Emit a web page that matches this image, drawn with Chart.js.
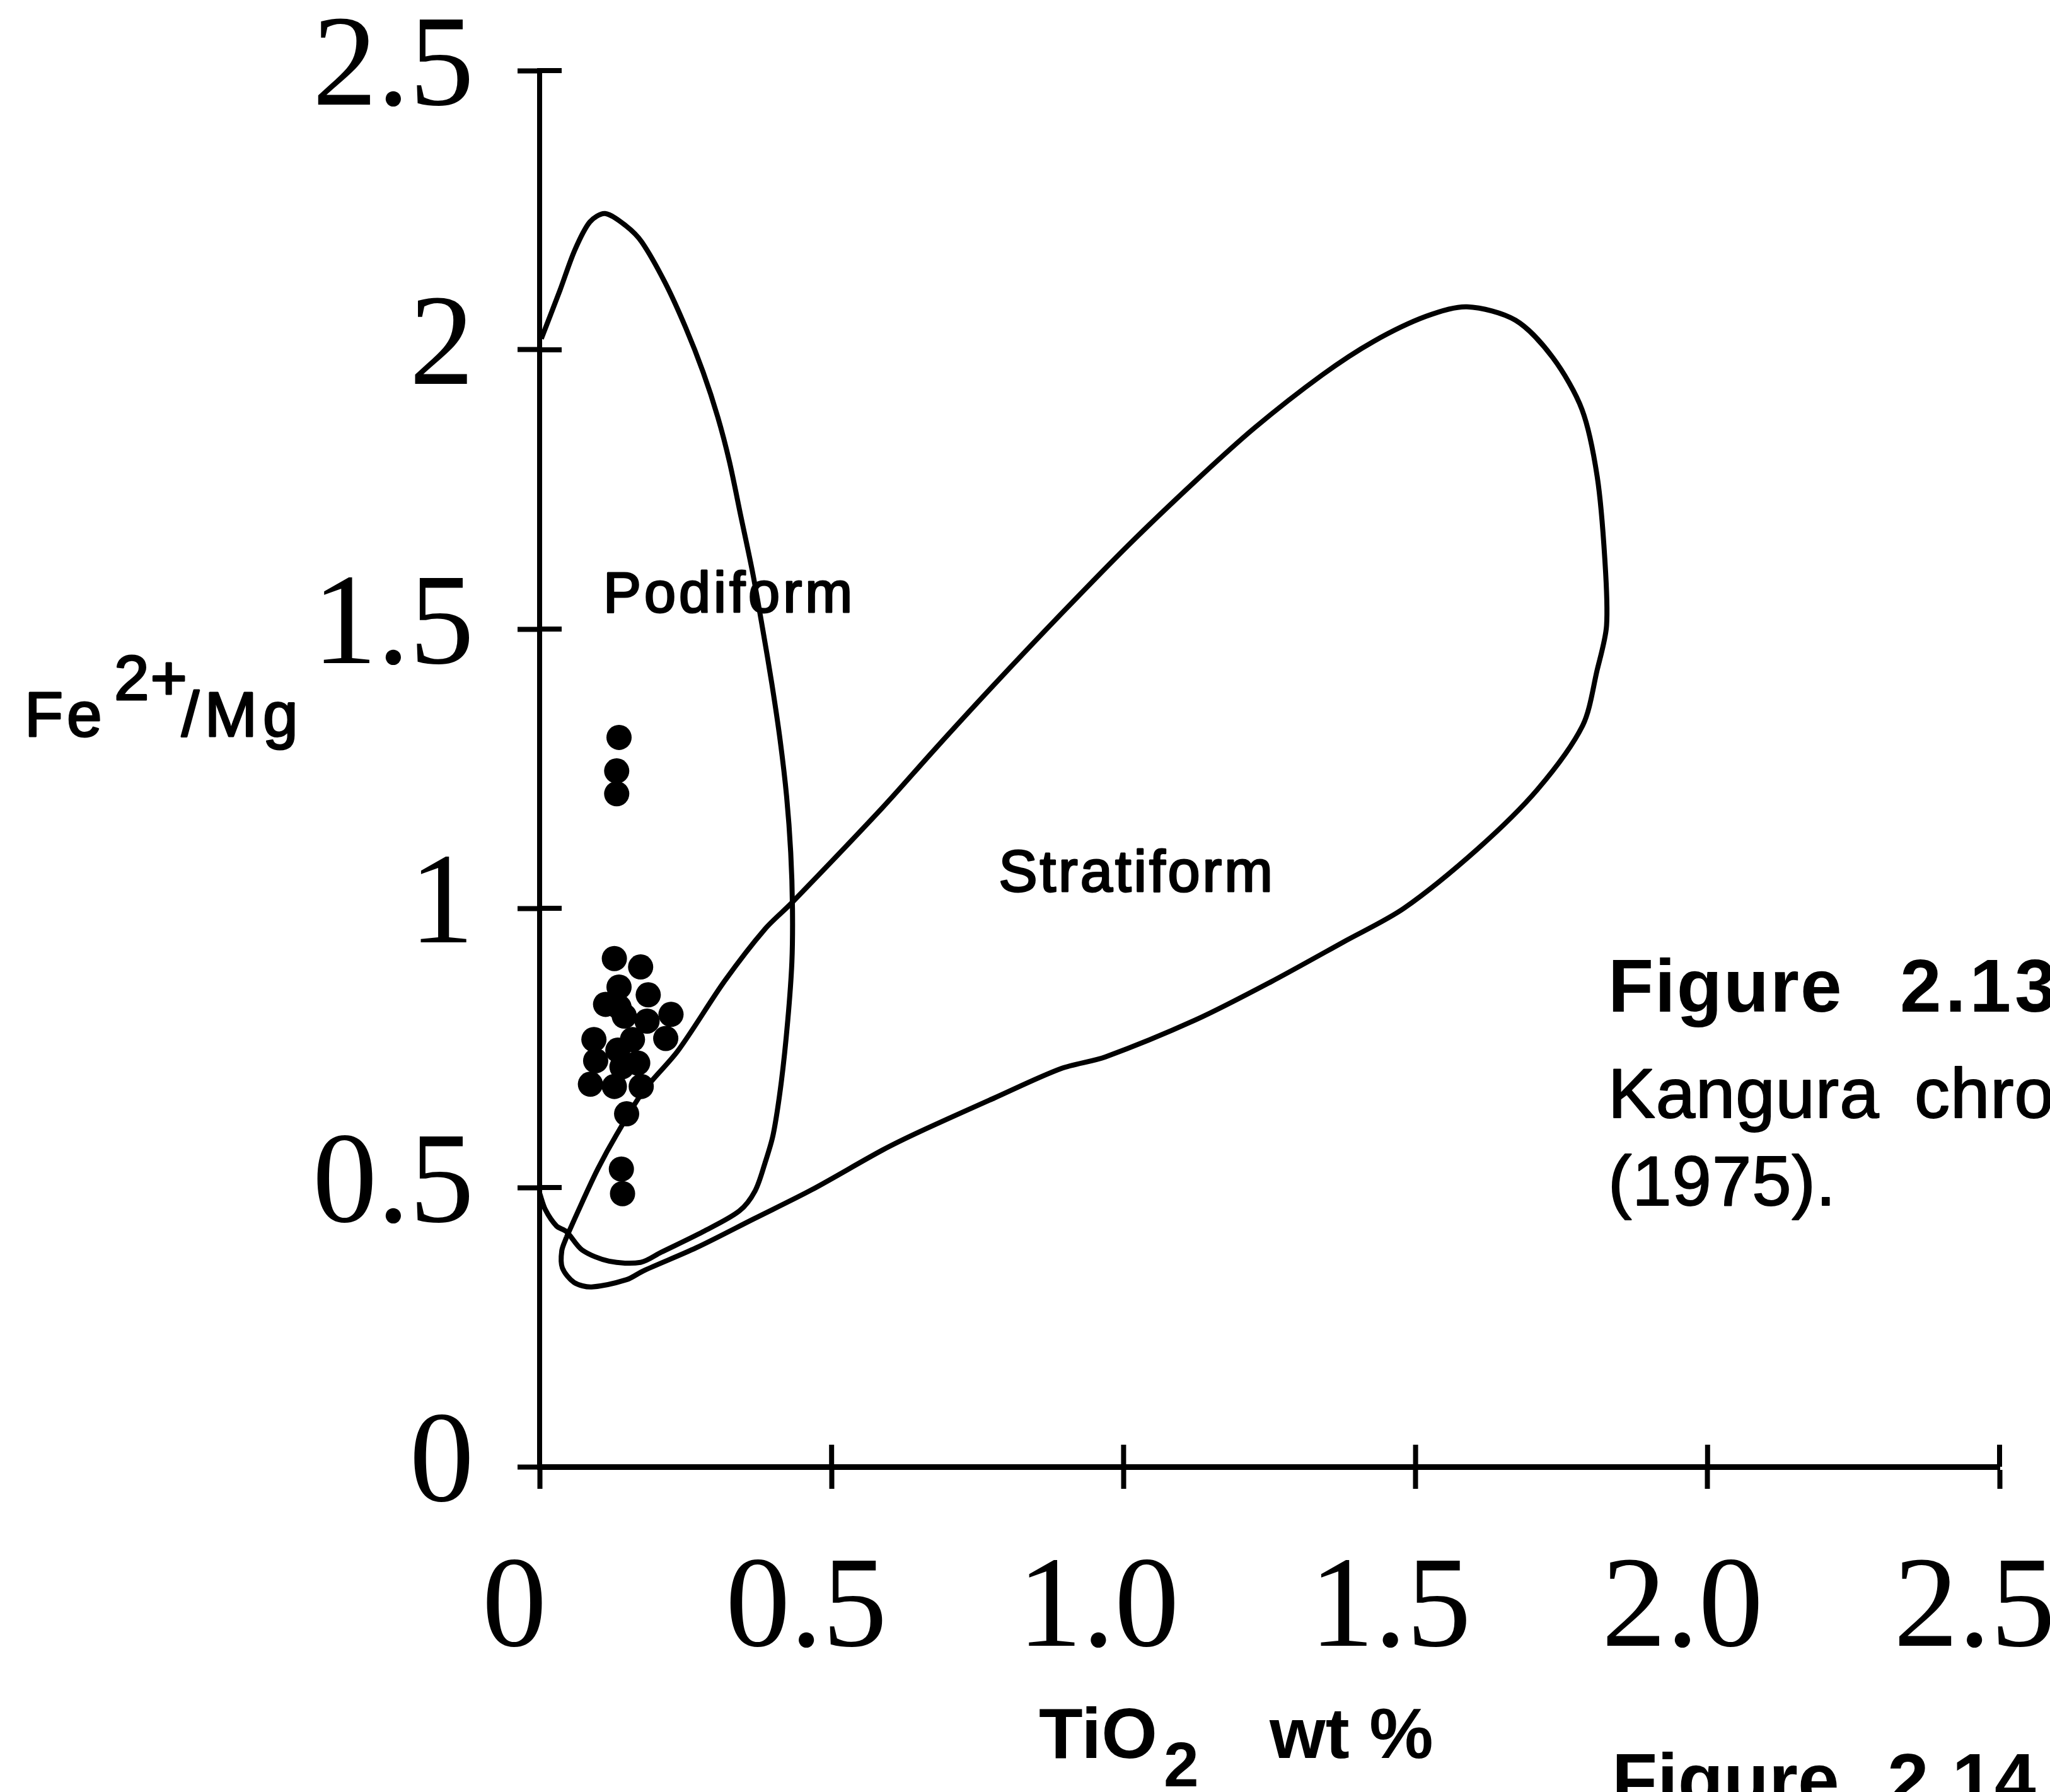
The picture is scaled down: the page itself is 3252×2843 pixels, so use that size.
<!DOCTYPE html>
<html lang="en">
<head>
    <meta charset="UTF-8">
    <title>Fe2+/Mg vs TiO2</title>
    <script src="https://cdn.jsdelivr.net/npm/chart.js"></script>
    <style>
        body { margin: 0; background: #fff; }
        canvas { display: block; }
    </style>
</head>
<body>
    <canvas id="plot" width="3252" height="2843"></canvas>

    <script>
        // axis ticks
        const xTickValues = [0, 0.5, 1, 1.5, 2, 2.5];
        const xTickLabels = ['0', '0.5', '1.0', '1.5', '2.0', '2.5'];
        const yTickValues = [0, 0.5, 1, 1.5, 2, 2.5];
        const yTickLabels = ['0', '0.5', '1', '1.5', '2', '2.5'];

        // Podiform field outline (TiO2 wt %, Fe2+/Mg)
        const podiformTiO2 = [0.003, 0.035, 0.060, 0.086, 0.112, 0.148, 0.175, 0.215, 0.250, 0.280, 0.305, 0.325, 0.345, 0.365, 0.382, 0.398, 0.412, 0.423, 0.430, 0.433, 0.432, 0.425, 0.414, 0.400, 0.386, 0.369, 0.342, 0.280, 0.208, 0.173, 0.119, 0.073, 0.046, 0.029, 0.010, 0.000];
        const podiformFeMg = [2.020, 2.107, 2.178, 2.229, 2.244, 2.222, 2.193, 2.120, 2.040, 1.960, 1.880, 1.800, 1.700, 1.600, 1.500, 1.400, 1.300, 1.200, 1.100, 1.000, 0.904, 0.800, 0.690, 0.595, 0.544, 0.494, 0.458, 0.421, 0.384, 0.366, 0.368, 0.388, 0.421, 0.431, 0.460, 0.490];

        // Stratiform field outline
        const stratiformTiO2 = [0.046, 0.073, 0.100, 0.132, 0.178, 0.237, 0.317, 0.386, 0.432, 0.587, 0.677, 0.778, 0.893, 1.008, 1.123, 1.224, 1.340, 1.428, 1.518, 1.588, 1.671, 1.735, 1.785, 1.811, 1.824, 1.827, 1.811, 1.786, 1.709, 1.607, 1.480, 1.377, 1.250, 1.123, 0.969, 0.893, 0.778, 0.651, 0.587, 0.466, 0.367, 0.268, 0.178, 0.149, 0.089, 0.059, 0.039, 0.038, 0.046];
        const stratiformFeMg = [0.411, 0.474, 0.534, 0.595, 0.673, 0.745, 0.870, 0.963, 1.010, 1.180, 1.285, 1.400, 1.527, 1.650, 1.765, 1.860, 1.955, 2.015, 2.060, 2.077, 2.053, 1.986, 1.893, 1.773, 1.626, 1.506, 1.427, 1.327, 1.213, 1.107, 1.000, 0.940, 0.867, 0.800, 0.734, 0.713, 0.660, 0.600, 0.567, 0.496, 0.444, 0.392, 0.351, 0.335, 0.322, 0.330, 0.356, 0.387, 0.411];

        // Kangura chromite analyses
        const sampleTiO2 = [0.136, 0.132, 0.132, 0.128, 0.173, 0.136, 0.186, 0.113, 0.136, 0.225, 0.145, 0.184, 0.093, 0.159, 0.216, 0.134, 0.096, 0.168, 0.141, 0.087, 0.128, 0.174, 0.149, 0.140, 0.142];
        const sampleFeMg = [1.306, 1.246, 1.205, 0.910, 0.895, 0.859, 0.845, 0.828, 0.823, 0.810, 0.807, 0.798, 0.765, 0.765, 0.767, 0.746, 0.727, 0.723, 0.716, 0.685, 0.681, 0.681, 0.632, 0.533, 0.489];

        const toPoints = (xs, ys) => xs.map((v, i) => ({ x: v, y: ys[i] }));

        const SANS = '"Liberation Sans", Arial, sans-serif';
        const SERIF = '"Liberation Serif", "Times New Roman", serif';
        const TICK = 35;

        // ticks in the reference cross the axis, chart.js only draws the outer half
        const crossTicks = {
            id: 'crossTicks',
            afterDraw(chart) {
                const { ctx, chartArea, scales: { x, y } } = chart;
                ctx.save();
                ctx.strokeStyle = '#000';
                ctx.lineWidth = 8;
                ctx.beginPath();
                xTickValues.forEach(v => {
                    const px = x.getPixelForValue(v);
                    ctx.moveTo(px, chartArea.bottom);
                    ctx.lineTo(px, chartArea.bottom - TICK);
                });
                yTickValues.forEach(v => {
                    const py = y.getPixelForValue(v);
                    ctx.moveTo(chartArea.left, py);
                    ctx.lineTo(chartArea.left + TICK, py);
                });
                ctx.stroke();
                ctx.restore();
            }
        };

        // heavy = extra stroke to mimic the thick photocopied type
        function put(ctx, text, x, y, font, spacing, heavy) {
            ctx.font = font;
            ctx.letterSpacing = (spacing || 0) + 'px';
            ctx.fillText(text, x, y);
            if (heavy) {
                ctx.lineWidth = heavy;
                ctx.strokeText(text, x, y);
            }
        }

        const labels = {
            id: 'labels',
            afterDraw(chart) {
                const { ctx, scales: { x, y } } = chart;
                ctx.save();
                ctx.fillStyle = '#000';
                ctx.strokeStyle = '#000';
                ctx.lineJoin = 'round';
                ctx.textAlign = 'left';
                ctx.textBaseline = 'alphabetic';

                // field names, placed in data units
                put(ctx, 'Podiform', x.getPixelForValue(0.109), y.getPixelForValue(1.53), '90px ' + SANS, 5, 3);
                put(ctx, 'Stratiform', x.getPixelForValue(0.786), y.getPixelForValue(1.03), '92px ' + SANS, 4, 3);

                // y axis title
                put(ctx, 'Fe', 39, 1168, '100px ' + SANS, 6, 3);
                put(ctx, '2+', 181, 1110, '100px ' + SANS, 2, 3);
                put(ctx, '/Mg', 288, 1168, '100px ' + SANS, 9, 3);

                // x axis title
                put(ctx, 'TiO', 1648, 2789, 'bold 114px ' + SANS, 0);
                put(ctx, '2', 1846, 2834, 'bold 100px ' + SANS, 0);
                put(ctx, 'wt %', 2014, 2789, 'bold 114px ' + SANS, 0);

                // captions running off the page
                put(ctx, 'Figure', 2551, 1605, 'bold 118px ' + SANS, 2);
                put(ctx, '2.13', 3014, 1605, 'bold 118px ' + SANS, 6);
                put(ctx, 'Kangura', 2551, 1773, '112px ' + SANS, 1, 2);
                put(ctx, 'chromitites', 3037, 1773, '112px ' + SANS, 1, 2);
                put(ctx, '(1975).', 2551, 1912, '112px ' + SANS, 1, 2);
                put(ctx, 'Figure', 2557, 2865, 'bold 118px ' + SANS, 0);
                put(ctx, '2.14', 2994, 2865, 'bold 118px ' + SANS, 2);

                ctx.letterSpacing = '0px';
                ctx.restore();
            }
        };

        const lineStyle = {
            showLine: true,
            pointRadius: 0,
            borderColor: '#000',
            borderWidth: 8,
            tension: 0.3,
            fill: false
        };

        new Chart(document.getElementById('plot'), {
            type: 'scatter',
            data: {
                datasets: [
                    {
                        label: 'Kangura',
                        data: toPoints(sampleTiO2, sampleFeMg),
                        pointRadius: 20,
                        pointBackgroundColor: '#000',
                        pointBorderWidth: 0,
                        showLine: false
                    },
                    { label: 'Podiform', data: toPoints(podiformTiO2, podiformFeMg), ...lineStyle },
                    { label: 'Stratiform', data: toPoints(stratiformTiO2, stratiformFeMg), ...lineStyle }
                ]
            },
            options: {
                responsive: false,
                animation: false,
                devicePixelRatio: 1,
                layout: { padding: { top: 112, right: 80, left: 0, bottom: 0 } },
                plugins: { legend: { display: false }, tooltip: { enabled: false } },
                scales: {
                    x: {
                        type: 'linear',
                        min: 0,
                        max: 2.5,
                        afterFit(scale) {
                            scale.height = 516;
                            scale.paddingLeft = 0;
                            scale.paddingRight = 0;
                        },
                        ticks: {
                            stepSize: 0.5,
                            autoSkip: false,
                            maxRotation: 0,
                            color: '#000',
                            font: { family: SERIF, size: 205 },
                            padding: 72,
                            labelOffset: -40,
                            callback: (value, index) => xTickLabels[index]
                        },
                        grid: { drawOnChartArea: false, drawTicks: true, tickLength: TICK, tickWidth: 8, color: '#000' },
                        border: { display: true, color: '#000', width: 9 }
                    },
                    y: {
                        type: 'linear',
                        min: 0,
                        max: 2.5,
                        afterFit(scale) {
                            scale.width = 856;
                            scale.paddingTop = 0;
                            scale.paddingBottom = 0;
                        },
                        ticks: {
                            stepSize: 0.5,
                            autoSkip: false,
                            color: '#000',
                            font: { family: SERIF, size: 205 },
                            padding: 69,
                            callback: (value, index) => yTickLabels[index]
                        },
                        grid: { drawOnChartArea: false, drawTicks: true, tickLength: TICK, tickWidth: 8, color: '#000' },
                        border: { display: true, color: '#000', width: 8 }
                    }
                }
            },
            plugins: [crossTicks, labels]
        });
    </script>
</body>
</html>
